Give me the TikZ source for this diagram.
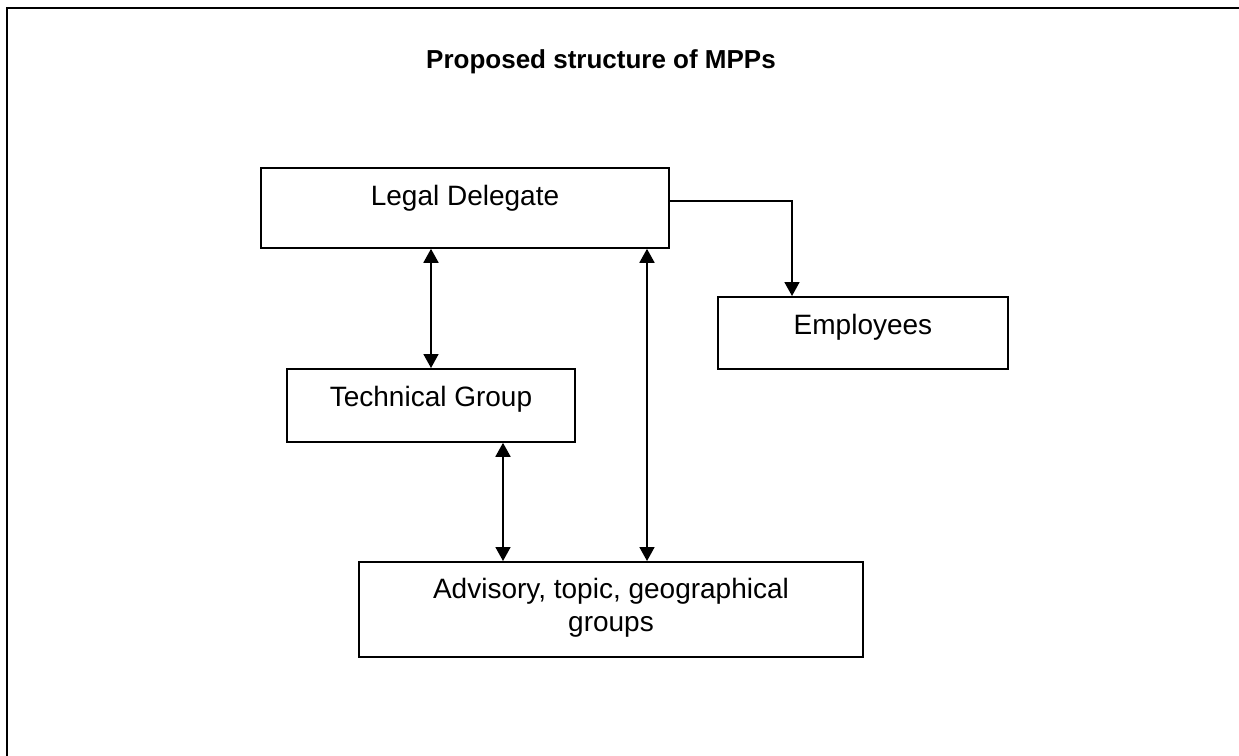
\documentclass[tikz,border=0pt]{standalone}
\usepackage{fontspec}
\setmainfont{Liberation Sans}
\usetikzlibrary{arrows.meta}

\begin{document}
\begin{tikzpicture}
		[x=0.5pt, y=-0.5pt,
		>={Triangle[length=7pt,width=7.5pt]},
		box/.style= {draw=black, line width=0.9pt, anchor=north, inner sep=0pt, text height=19pt, align=center, font=\fontsize{14}{16.5}\selectfont},
		link/.style= {line width=0.9pt}]

		\useasboundingbox (0,0) rectangle (1239,756);
		\clip (0,0) rectangle (1239,756);
		\draw[line width=1.4pt] (7,8) rectangle (1260,780);

		\node[anchor=base, font=\bfseries\fontsize{13}{15}\selectfont] (title) at (601,68) {Proposed structure of MPPs};

		\node[box, minimum width=204pt, text depth=21pt] (legal) at (465,167) {Legal Delegate};

		\node[box, minimum width=145pt, text depth=17pt] (emp) at (863,296) {Employees};

		\node[box, minimum width=144pt, text depth=17.5pt] (tech) at (431,368) {Technical Group};

		\node[box, minimum width=252pt, text height=35pt, text depth=12.5pt] (adv) at (611,561) {Advisory, topic, geographical\\groups};

		\draw[link, ->] ([yshift=3.5pt]legal.east) -| ([xshift=-35.5pt]emp.north);
		\draw[link, <->] (legal.south -| tech.north) -- (tech.north);
		\draw[link, <->] ([xshift=36pt]tech.south) -- ([xshift=36pt]tech.south |- adv.north);
		\draw[link, <->] ([xshift=91pt]legal.south) -- ([xshift=91pt]legal.south |- adv.north);

	\end{tikzpicture}
\end{document}
